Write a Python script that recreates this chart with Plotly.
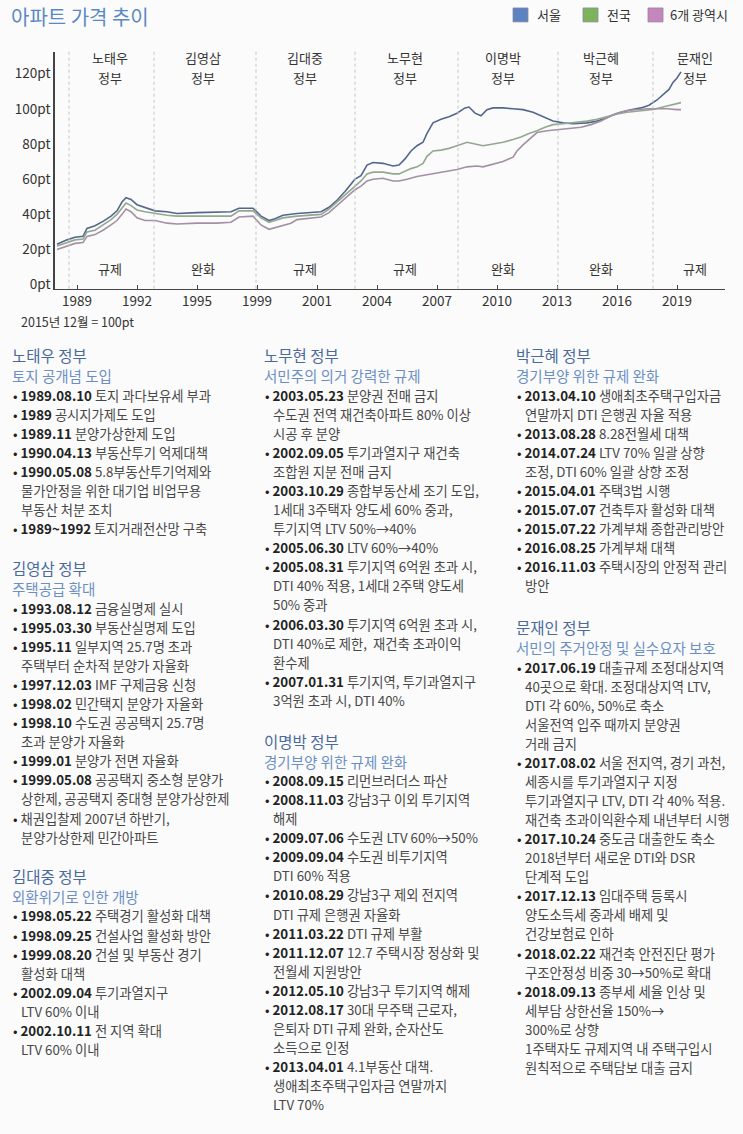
import plotly.graph_objects as go

# ---------------- data ----------------
seoul_years = [1988.0, 1988.5, 1988.9, 1989.3, 1989.5, 1989.9, 1990.3, 1990.7, 1991.0, 1991.25, 1991.45, 1991.7,
               1992.0, 1992.4, 1992.9, 1993.5, 1994.0, 1995.0, 1996.0, 1996.7, 1997.1, 1997.8, 1998.2, 1998.6,
               1998.9, 1999.3, 2000.0, 2000.7, 2001.2, 2001.6, 2002.0, 2002.4, 2002.7, 2002.9, 2003.2, 2003.5,
               2003.8, 2004.3, 2004.8, 2005.1, 2005.4, 2005.7, 2006.0, 2006.3, 2006.5, 2006.8, 2007.2, 2007.6,
               2008.0, 2008.4, 2008.6, 2008.9, 2009.2, 2009.5, 2009.8, 2010.3, 2010.8, 2011.3, 2011.8, 2012.3,
               2012.8, 2013.3, 2013.8, 2014.5, 2015.0, 2015.4, 2015.8, 2016.2, 2016.7, 2017.2, 2017.6, 2018.0,
               2018.3, 2018.6, 2018.8, 2019.0, 2019.2]
seoul_vals = [23, 25.5, 27, 27.5, 32, 33.5, 36, 39, 42, 47, 49.5, 48.5,
              45.5, 44, 42, 41.5, 40.5, 41, 41.5, 41.5, 43.5, 43.5, 39, 36.5,
              37.5, 39.5, 40.5, 41, 41.5, 44, 48, 53, 57, 60, 62, 68,
              69.5, 69, 67.5, 68, 71.5, 76, 79, 81, 86, 92, 94, 95.5,
              97.5, 100.5, 101, 97.5, 96, 99.5, 100.5, 100.5, 100, 99.5, 98, 95.5,
              93, 92, 91.5, 92, 93, 94.5, 96.5, 98, 99.5, 100.5, 102, 105,
              108, 111, 115, 117.5, 121]

nation_years = [1988.0, 1988.5, 1988.9, 1989.3, 1989.5, 1989.9, 1990.3, 1990.7, 1991.0, 1991.25, 1991.45, 1991.7,
                1992.0, 1992.4, 1992.9, 1993.5, 1994.0, 1995.0, 1996.0, 1996.7, 1997.1, 1997.8, 1998.2, 1998.6,
                1998.9, 1999.3, 2000.0, 2000.7, 2001.2, 2001.6, 2002.0, 2002.4, 2002.7, 2002.9, 2003.2, 2003.5,
                2003.8, 2004.3, 2004.8, 2005.1, 2005.4, 2005.7, 2006.0, 2006.3, 2006.5, 2006.8, 2007.2, 2007.6,
                2008.0, 2008.5, 2008.9, 2009.3, 2009.8, 2010.3, 2010.8, 2011.2, 2011.6, 2012.0, 2012.4, 2012.8,
                2013.3, 2013.8, 2014.5, 2015.0, 2015.5, 2016.0, 2016.5, 2017.0, 2017.5, 2017.8, 2018.3, 2018.8,
                2019.2]
nation_vals = [22, 24, 25.5, 26, 30, 31, 34, 37, 40, 44, 46.5, 45,
               42.5, 41.5, 40.5, 39.5, 39, 39, 39, 39, 42, 42, 38, 35.5,
               36.5, 38, 39, 39.5, 40, 43, 47, 51, 54, 56, 59, 63,
               64, 64, 63, 63, 64.5, 66, 67, 69, 73, 76, 76.5, 77.5,
               79, 81, 80, 79, 80, 81, 82.5, 84, 86, 87.5, 89.5, 91,
               91.5, 92, 93, 94, 95.5, 97, 98, 98.5, 99, 99.6, 101, 102.5,
               103.5]

metro_years = [1988.0, 1988.5, 1988.9, 1989.3, 1989.5, 1989.9, 1990.3, 1990.7, 1991.0, 1991.25, 1991.45, 1991.7,
               1992.0, 1992.4, 1992.9, 1993.5, 1994.0, 1995.0, 1996.0, 1996.7, 1997.1, 1997.8, 1998.2, 1998.6,
               1998.9, 1999.3, 1999.7, 2000.0, 2000.7, 2001.2, 2001.6, 2002.0, 2002.4, 2002.7, 2002.9, 2003.2,
               2003.5, 2003.8, 2004.3, 2004.8, 2005.1, 2005.5, 2006.0, 2006.5, 2007.0, 2007.5, 2008.0, 2008.5,
               2009.0, 2009.3, 2009.8, 2010.3, 2010.8, 2011.0, 2011.3, 2011.6, 2012.0, 2012.5, 2013.0, 2013.6,
               2014.2, 2014.7, 2015.2, 2015.6, 2016.0, 2016.5, 2017.0, 2017.5, 2018.0, 2018.5, 2019.0, 2019.2]
metro_vals = [20, 22, 23.5, 24, 27.5, 28.5, 31, 34, 36.5, 40, 43, 41.5,
              38, 36.5, 36.5, 35, 34.5, 35, 35, 35.5, 38.5, 39, 34, 31.5,
              32.5, 34, 35, 37, 38, 38.5, 41, 45, 49, 52, 54, 56,
              59, 60, 60.5, 59, 59, 60, 61.5, 62.5, 63.5, 64.5, 65.5, 67,
              67.5, 67, 68.5, 70, 72.5, 76, 79.5, 82.5, 86.5, 87.5, 88, 88.5,
              89.5, 91, 93, 95.5, 97.5, 99, 99.6, 100, 100, 100, 99.5, 99.5]

series_names = ["서울", "전국", "6개 광역시"]
line_colors = ["#53678c", "#93a88f", "#a48fa6"]
legend_colors = ["#5b83c3", "#7db35f", "#c486bd"]

tick_vals = [1989, 1992, 1995, 1998, 2001, 2004, 2007, 2010, 2013, 2016, 2019]
tick_text = ["1989", "1992", "1995", "1999", "2001", "2004", "2007", "2010", "2013", "2016", "2019"]
y_ticks = [0, 20, 40, 60, 80, 100, 120]

gov_dividers = [1988.6, 1992.85, 1997.95, 2002.9, 2008.05, 2013.05, 2017.8]
gov_names = ["노태우", "김영삼", "김대중", "노무현", "이명박", "박근혜", "문재인"]
gov_label_x = [1990.65, 1995.3, 2000.4, 2005.4, 2010.3, 2015.2, 2019.9]
policy_labels = ["규제", "완화", "규제", "규제", "완화", "완화", "규제"]

col1 = [
    ("노태우 정부", "토지 공개념 도입", [
        ("1989.08.10", "토지 과다보유세 부과", []),
        ("1989", "공시지가제도 도입", []),
        ("1989.11", "분양가상한제 도입", []),
        ("1990.04.13", "부동산투기 억제대책", []),
        ("1990.05.08", "5.8부동산투기억제와", ["물가안정을 위한 대기업 비업무용", "부동산 처분 조치"]),
        ("1989~1992", "토지거래전산망 구축", []),
    ]),
    ("김영삼 정부", "주택공급 확대", [
        ("1993.08.12", "금융실명제 실시", []),
        ("1995.03.30", "부동산실명제 도입", []),
        ("1995.11", "일부지역 25.7명 초과", ["주택부터 순차적 분양가 자율화"]),
        ("1997.12.03", "IMF 구제금융 신청", []),
        ("1998.02", "민간택지 분양가 자율화", []),
        ("1998.10", "수도권 공공택지 25.7명", ["초과 분양가 자율화"]),
        ("1999.01", "분양가 전면 자율화", []),
        ("1999.05.08", "공공택지 중소형 분양가", ["상한제, 공공택지 중대형 분양가상한제"]),
        ("", "채권입찰제 2007년 하반기,", ["분양가상한제 민간아파트"]),
    ]),
    ("김대중 정부", "외환위기로 인한 개방", [
        ("1998.05.22", "주택경기 활성화 대책", []),
        ("1998.09.25", "건설사업 활성화 방안", []),
        ("1999.08.20", "건설 및 부동산 경기", ["활성화 대책"]),
        ("2002.09.04", "투기과열지구", ["LTV 60% 이내"]),
        ("2002.10.11", "전 지역 확대", ["LTV 60% 이내"]),
    ]),
]
col2 = [
    ("노무현 정부", "서민주의 의거 강력한 규제", [
        ("2003.05.23", "분양권 전매 금지", ["수도권 전역 재건축아파트 80% 이상", "시공 후 분양"]),
        ("2002.09.05", "투기과열지구 재건축", ["조합원 지분 전매 금지"]),
        ("2003.10.29", "종합부동산세 조기 도입,", ["1세대 3주택자 양도세 60% 중과,", "투기지역 LTV 50%→40%"]),
        ("2005.06.30", "LTV 60%→40%", []),
        ("2005.08.31", "투기지역 6억원 초과 시,", ["DTI 40% 적용, 1세대 2주택 양도세", "50% 중과"]),
        ("2006.03.30", "투기지역 6억원 초과 시,", ["DTI 40%로 제한,  재건축 초과이익", "환수제"]),
        ("2007.01.31", "투기지역, 투기과열지구", ["3억원 초과 시, DTI 40%"]),
    ]),
    ("이명박 정부", "경기부양 위한 규제 완화", [
        ("2008.09.15", "리먼브러더스 파산", []),
        ("2008.11.03", "강남3구 이외 투기지역", ["해제"]),
        ("2009.07.06", "수도권 LTV 60%→50%", []),
        ("2009.09.04", "수도권 비투기지역", ["DTI 60% 적용"]),
        ("2010.08.29", "강남3구 제외 전지역", ["DTI 규제 은행권 자율화"]),
        ("2011.03.22", "DTI 규제 부활", []),
        ("2011.12.07", "12.7 주택시장 정상화 및", ["전월세 지원방안"]),
        ("2012.05.10", "강남3구 투기지역 해제", []),
        ("2012.08.17", "30대 무주택 근로자,", ["은퇴자 DTI 규제 완화, 순자산도", "소득으로 인정"]),
        ("2013.04.01", "4.1부동산 대책.", ["생애최초주택구입자금 연말까지", "LTV 70%"]),
    ]),
]
col3 = [
    ("박근혜 정부", "경기부양 위한 규제 완화", [
        ("2013.04.10", "생애최초주택구입자금", ["연말까지 DTI 은행권 자율 적용"]),
        ("2013.08.28", "8.28전월세 대책", []),
        ("2014.07.24", "LTV 70% 일괄 상향", ["조정, DTI 60% 일괄 상향 조정"]),
        ("2015.04.01", "주택3법 시행", []),
        ("2015.07.07", "건축투자 활성화 대책", []),
        ("2015.07.22", "가계부채 종합관리방안", []),
        ("2016.08.25", "가계부채 대책", []),
        ("2016.11.03", "주택시장의 안정적 관리", ["방안"]),
    ]),
    ("문재인 정부", "서민의 주거안정 및 실수요자 보호", [
        ("2017.06.19", "대출규제 조정대상지역", ["40곳으로 확대. 조정대상지역 LTV,", "DTI 각 60%, 50%로 축소",
                                              "서울전역 입주 때까지 분양권", "거래 금지"]),
        ("2017.08.02", "서울 전지역, 경기 과천,", ["세종시를 투기과열지구 지정", "투기과열지구 LTV, DTI 각 40% 적용.",
                                                "재건축 초과이익환수제 내년부터 시행"]),
        ("2017.10.24", "중도금 대출한도 축소", ["2018년부터 새로운 DTI와 DSR", "단계적 도입"]),
        ("2017.12.13", "임대주택 등록시", ["양도소득세 중과세 배제 및", "건강보험료 인하"]),
        ("2018.02.22", "재건축 안전진단 평가", ["구조안정성 비중 30→50%로 확대"]),
        ("2018.09.13", "종부세 세율 인상 및", ["세부담 상한선율 150%→", "300%로 상향",
                                           "1주택자도 규제지역 내 주택구입시", "원칙적으로 주택담보 대출 금지"]),
    ]),
]

# ---------------- figure ----------------
W, H = 743, 1134
FONT = "Noto Sans CJK KR"

def px_x(p):
    return p / W

def px_y(p):
    return 1 - p / H

fig = go.Figure()
for yrs, vals, name, col in zip([seoul_years, nation_years, metro_years],
                                [seoul_vals, nation_vals, metro_vals],
                                series_names, line_colors):
    fig.add_trace(go.Scatter(x=yrs, y=vals, mode="lines", name=name,
                             line=dict(color=col, width=1.6), showlegend=False,
                             hoverinfo="skip"))

plot_left, plot_right, plot_top, plot_bottom = 55, 725, 52, 290

fig.update_layout(
    width=W, height=H,
    margin=dict(l=0, r=0, t=0, b=0),
    paper_bgcolor="#fbfbfb", plot_bgcolor="rgba(0,0,0,0)",
    font=dict(family=FONT, color="#333333"),
    xaxis=dict(domain=[px_x(plot_left), px_x(plot_right)], range=[1987.9, 2021.4],
               tickvals=tick_vals, ticktext=tick_text, showgrid=False, zeroline=False,
               showline=True, linecolor="#444444", linewidth=1.3,
               ticks="inside", ticklen=4, tickcolor="#444444",
               tickfont=dict(size=13.5, color="#333333", family=FONT)),
    yaxis=dict(domain=[px_y(plot_bottom), px_y(plot_top)], range=[-2.26, 132.4],
               tickvals=y_ticks, ticktext=[f"{v}pt" for v in y_ticks],
               showgrid=False, zeroline=False, showline=True, linecolor="#444444", linewidth=1.6,
               ticks="", tickfont=dict(size=13.5, color="#333333", family=FONT)),
)

shapes = []
annotations = []

# government dividers
for gx in gov_dividers:
    shapes.append(dict(type="line", xref="x", yref="paper", x0=gx, x1=gx,
                       y0=px_y(plot_bottom), y1=px_y(plot_top),
                       line=dict(color="#c4c4c4", width=1, dash="dot")))

for gx, nm, pl in zip(gov_label_x, gov_names, policy_labels):
    annotations.append(dict(x=gx, y=px_y(58), xref="x", yref="paper", text=nm, yanchor="middle",
                            showarrow=False, font=dict(size=13, color="#333333", family=FONT)))
    annotations.append(dict(x=gx, y=px_y(78), xref="x", yref="paper", text="정부", yanchor="middle",
                            showarrow=False, font=dict(size=13, color="#333333", family=FONT)))
    annotations.append(dict(x=gx, y=px_y(270), xref="x", yref="paper", text=pl, yanchor="middle",
                            showarrow=False, font=dict(size=13, color="#333333", family=FONT)))

# title
annotations.append(dict(x=px_x(9), y=px_y(17), xref="paper", yref="paper", xanchor="left",
                        yanchor="middle", text="아파트 가격 추이", showarrow=False,
                        font=dict(size=20, color="#5a88c4", family=FONT)))
# base note
annotations.append(dict(x=px_x(19), y=px_y(323), xref="paper", yref="paper", xanchor="left",
                        yanchor="middle", text="2015년 12월 = 100pt", showarrow=False,
                        font=dict(size=12.5, color="#333333", family=FONT)))

# legend
legend_pos = [(513, 535), (583, 605), (648, 668)]
for (sx, tx), nm, col in zip(legend_pos, series_names, legend_colors):
    shapes.append(dict(type="rect", xref="paper", yref="paper", x0=px_x(sx), x1=px_x(sx + 15),
                       y0=px_y(22), y1=px_y(8), fillcolor=col, line=dict(color="#8a8a9a", width=0.8)))
    annotations.append(dict(x=px_x(tx), y=px_y(15), xref="paper", yref="paper", xanchor="left",
                            yanchor="middle", text=nm, showarrow=False,
                            font=dict(size=13, color="#333333", family=FONT)))

# text columns
col_x = [10, 262, 514]
col_starts = [[357, 571, 880], [357, 744], [357, 630]]
LH = 19.15
for cx, sections, starts in zip(col_x, [col1, col2, col3], col_starts):
    for (head, sub, items), y0 in zip(sections, starts):
        annotations.append(dict(x=px_x(cx), y=px_y(y0), xref="paper", yref="paper", xanchor="left",
                                yanchor="middle", text=head, showarrow=False,
                                font=dict(size=15.5, color="#4a6a9c", family=FONT)))
        annotations.append(dict(x=px_x(cx), y=px_y(y0 + 20.5), xref="paper", yref="paper", xanchor="left",
                                yanchor="middle", text=sub, showarrow=False,
                                font=dict(size=14.5, color="#6b8fc4", family=FONT)))
        y = y0 + 40
        for date, first, conts in items:
            date_html = f"<b>{date}</b> " if date else ""
            txt = (f"<span style='color:#222222'>• {date_html}</span>"
                   f"<span style='color:#484848'>{first}</span>")
            annotations.append(dict(x=px_x(cx + 1), y=px_y(y), xref="paper", yref="paper", xanchor="left",
                                    yanchor="middle", text=txt, showarrow=False,
                                    font=dict(size=13.3, family=FONT)))
            y += LH
            for c in conts:
                annotations.append(dict(x=px_x(cx + 9), y=px_y(y), xref="paper", yref="paper",
                                        xanchor="left", yanchor="middle", text=c, showarrow=False,
                                        font=dict(size=13.3, color="#484848", family=FONT)))
                y += LH

fig.update_layout(shapes=shapes, annotations=annotations)
fig.write_html("out.html")
